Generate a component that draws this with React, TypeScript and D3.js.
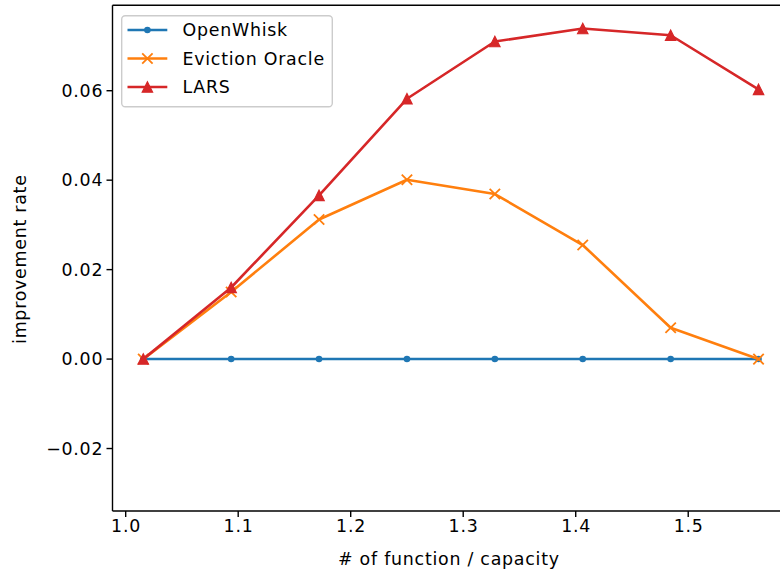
import React from "react";
import * as d3 from "d3";

const xValues = [65 / 64, 70 / 64, 75 / 64, 80 / 64, 85 / 64, 90 / 64, 95 / 64, 100 / 64];
const openWhisk = [0, 0, 0, 0, 0, 0, 0, 0];
const evictionOracle = [0, 0.015, 0.0312, 0.0401, 0.0369, 0.0255, 0.007, 0];
const lars = [0, 0.016, 0.0366, 0.0582, 0.071, 0.0739, 0.0724, 0.0603];
const xTicks = [1.0, 1.1, 1.2, 1.3, 1.4, 1.5];
const yTicks = [-0.02, 0.0, 0.02, 0.04, 0.06];
const seriesNames = ["OpenWhisk", "Eviction Oracle", "LARS"];
const seriesColors = ["#1f77b4", "#ff7f0e", "#d62728"];
const seriesMarkers = ["point", "x", "triangle"];

const W = 780;
const H = 571;
const FONT = "DejaVu Sans, sans-serif";
const FS = 17.4;
const LS = 0.75;

function Marker({ type, x, y, color }: { type: string; x: number; y: number; color: string }) {
  if (type === "point") return <circle cx={x} cy={y} r={3.3} fill={color} />;
  if (type === "x") {
    const s = 5.2;
    return (
      <path
        d={`M${x - s},${y - s}L${x + s},${y + s}M${x - s},${y + s}L${x + s},${y - s}`}
        stroke={color}
        strokeWidth={1.8}
        fill="none"
      />
    );
  }
  const s = 5.2;
  return (
    <path
      d={`M${x},${y - s}L${x + s},${y + s}L${x - s},${y + s}Z`}
      fill={color}
      stroke={color}
      strokeWidth={1.2}
      strokeLinejoin="miter"
    />
  );
}

export default function App() {
  const left = 112.5;
  const right = 789.3;
  const top = 5.3;
  const bottom = 511;
  const x = d3.scaleLinear().domain([0.98828, 1.58984]).range([left, right]);
  const y = d3.scaleLinear().domain([-0.03397, 0.0791]).range([bottom, top]);
  const series = [openWhisk, evictionOracle, lars];
  const line = d3
    .line<number>()
    .x((_, i) => x(xValues[i]))
    .y((d) => y(d));

  const legX = 121.7;
  const legY = 15.7;
  const legW = 210.6;
  const legH = 91;
  const rowY = [30, 58.5, 87];

  return (
    <svg
      width={W}
      height={H}
      style={{ position: "absolute", left: 0, top: 0, background: "#fff" }}
      fontFamily={FONT}
      letterSpacing={LS}
    >
      <rect x={0} y={0} width={W} height={H} fill="#fff" />
      <defs>
        <clipPath id="plotclip">
          <rect x={left} y={top} width={right - left} height={bottom - top} />
        </clipPath>
      </defs>
      <g clipPath="url(#plotclip)">
        {series.map((s, si) => (
          <g key={si}>
            <path d={line(s) || ""} fill="none" stroke={seriesColors[si]} strokeWidth={2.6} strokeLinejoin="round" strokeLinecap="square" />
            {s.map((v, i) => (
              <Marker key={i} type={seriesMarkers[si]} x={x(xValues[i])} y={y(v)} color={seriesColors[si]} />
            ))}
          </g>
        ))}
      </g>
      {/* spines */}
      <line x1={left} x2={left} y1={top} y2={bottom} stroke="#000" strokeWidth={1.4} />
      <line x1={left} x2={right} y1={bottom} y2={bottom} stroke="#000" strokeWidth={1.4} />
      <line x1={left} x2={right} y1={top} y2={top} stroke="#000" strokeWidth={1.4} />
      <line x1={right} x2={right} y1={top} y2={bottom} stroke="#000" strokeWidth={1.4} />
      {/* x ticks */}
      {xTicks.map((t) => (
        <g key={t}>
          <line x1={x(t)} x2={x(t)} y1={bottom} y2={bottom + 6} stroke="#000" strokeWidth={1.4} />
          <text x={x(t) + LS / 2} y={bottom + 8.5} fontSize={FS} textAnchor="middle" dominantBaseline="hanging" fill="#000">
            {t.toFixed(1)}
          </text>
        </g>
      ))}
      {/* y ticks */}
      {yTicks.map((t) => (
        <g key={t}>
          <line x1={left - 6} x2={left} y1={y(t)} y2={y(t)} stroke="#000" strokeWidth={1.4} />
          <text x={left - 10 + LS} y={y(t)} fontSize={FS} textAnchor="end" dominantBaseline="central" fill="#000">
            {t < 0 ? "\u2212" + Math.abs(t).toFixed(2) : t.toFixed(2)}
          </text>
        </g>
      ))}
      <text x={(left + right) / 2 - 2} y={559} fontSize={FS} textAnchor="middle" dominantBaseline="central" fill="#000">
        # of function / capacity
      </text>
      <text
        transform={`translate(20,${(top + bottom) / 2 + 1}) rotate(-90)`}
        fontSize={FS}
        textAnchor="middle"
        dominantBaseline="central"
        fill="#000"
      >
        improvement rate
      </text>
      {/* legend */}
      <rect x={legX} y={legY} width={legW} height={legH} rx={3.5} fill="#fff" fillOpacity={0.8} stroke="#cccccc" strokeWidth={1.4} />
      {seriesNames.map((n, i) => (
        <g key={n}>
          <line x1={127.5} x2={167.3} y1={rowY[i]} y2={rowY[i]} stroke={seriesColors[i]} strokeWidth={2.6} />
          <Marker type={seriesMarkers[i]} x={147.4} y={rowY[i]} color={seriesColors[i]} />
          <text x={182.5} y={rowY[i]} fontSize={FS} dominantBaseline="central" fill="#000">
            {n}
          </text>
        </g>
      ))}
    </svg>
  );
}
